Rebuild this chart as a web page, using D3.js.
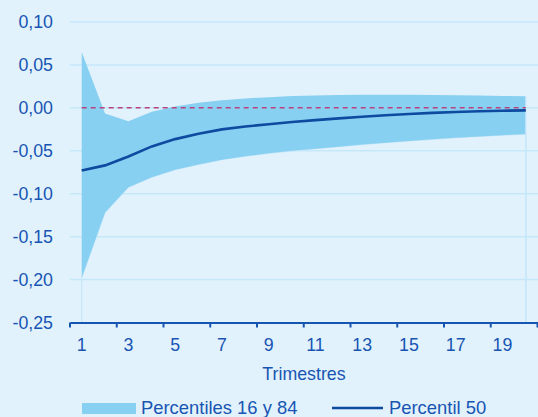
<!DOCTYPE html>
<html>
<head>
<meta charset="utf-8">
<script src="https://cdn.jsdelivr.net/npm/d3@7/dist/d3.min.js"></script>
<style>
  html, body { margin: 0; padding: 0; background: #e1f2fd; }
  svg { display: block; }
  text { font-family: "Liberation Sans", Arial, sans-serif; fill: #1855b3; }
</style>
</head>
<body>
<svg id="chart" width="538" height="417"></svg>
<script>
// Quarters after the shock
const quarters = d3.range(1, 21);
// Percentile 84 (upper edge of the band)
const p84 = [0.065, -0.0065, -0.0155, -0.0045, 0.0015, 0.0060, 0.0088, 0.0110, 0.0125, 0.0137,
             0.0145, 0.0150, 0.0153, 0.0154, 0.0153, 0.0150, 0.0147, 0.0143, 0.0139, 0.0134];
// Percentile 50 (median response)
const p50 = [-0.073, -0.067, -0.0566, -0.0449, -0.0364, -0.0301, -0.0251, -0.0218, -0.0190, -0.0165,
             -0.0143, -0.0122, -0.0103, -0.0086, -0.0071, -0.0059, -0.0049, -0.0040, -0.0034, -0.0029];
// Percentile 16 (lower edge of the band)
const p16 = [-0.198, -0.122, -0.0924, -0.0807, -0.0721, -0.0659, -0.0604, -0.0563, -0.0530, -0.0501,
             -0.0476, -0.0452, -0.0428, -0.0405, -0.0385, -0.0366, -0.0348, -0.0333, -0.0318, -0.0305];
const yTicks = [0.10, 0.05, 0.00, -0.05, -0.10, -0.15, -0.20, -0.25];
const xLabels = [1, 3, 5, 7, 9, 11, 13, 15, 17, 19];
const legendLabels = ["Percentiles 16 y 84", "Percentil 50"];
const axisTitle = "Trimestres";

const svg = d3.select("#chart");
const plotLeft = 70, plotRight = 537.5, plotTop = 22, plotBottom = 322.5;

const x = d3.scaleBand().domain(quarters).range([plotLeft, plotRight]).paddingInner(0).paddingOuter(0);
const xc = q => x(q) + x.bandwidth() / 2;
const y = d3.scaleLinear().domain([-0.25, 0.10]).range([plotBottom, plotTop]);
const fmt = v => d3.format(".2f")(v).replace(".", ",").replace("−", "-");

// horizontal gridlines
svg.append("g").selectAll("line").data(yTicks.filter(v => v > -0.25)).join("line")
  .attr("x1", plotLeft).attr("x2", 538)
  .attr("y1", d => y(d)).attr("y2", d => y(d))
  .attr("stroke", "#c5e7fa").attr("stroke-width", 1.5);

// y tick labels
svg.append("g").selectAll("text").data(yTicks).join("text")
  .attr("x", 53).attr("y", d => y(d)).attr("dy", "0.36em")
  .attr("text-anchor", "end").attr("font-size", 17.8)
  .text(fmt);

// outline of the region below the band
const baseArea = d3.area().x((d, i) => xc(quarters[i])).y0(y(-0.25)).y1(d => y(d));
svg.append("path").datum(p16).attr("d", baseArea)
  .attr("fill", "none").attr("stroke", "#c5e7fa").attr("stroke-width", 1.2);

// 16-84 band
const band = d3.area().x((d, i) => xc(quarters[i])).y0((d, i) => y(p16[i])).y1(d => y(d));
svg.append("path").datum(p84).attr("d", band).attr("fill", "#88d0f1");
svg.append("line")
  .attr("x1", xc(20)).attr("x2", xc(20)).attr("y1", y(p84[19])).attr("y2", y(-0.25))
  .attr("stroke", "#c5e7fa").attr("stroke-width", 1.2);

// zero reference line
svg.append("line")
  .attr("x1", xc(1)).attr("x2", xc(20)).attr("y1", y(0)).attr("y2", y(0))
  .attr("stroke", "#b8437f").attr("stroke-width", 1.5).attr("stroke-dasharray", "5,4");

// median line
const line = d3.line().x((d, i) => xc(quarters[i])).y(d => y(d));
svg.append("path").datum(p50).attr("d", line)
  .attr("fill", "none").attr("stroke", "#0d4aa0").attr("stroke-width", 2.6);

// x axis
const xAxis = d3.axisBottom(x).tickValues([]).tickSize(0).tickSizeOuter(0);
const gx = svg.append("g").attr("transform", `translate(0,${plotBottom})`).call(xAxis);
gx.select(".domain").attr("stroke", "#1756b0").attr("stroke-width", 2.2);
const tickPos = d3.range(0, 21, 2).map(k => plotLeft + k * x.bandwidth());
gx.selectAll("line.tk").data(tickPos).join("line").attr("class", "tk")
  .attr("x1", d => d).attr("x2", d => d).attr("y1", 0).attr("y2", 5)
  .attr("stroke", "#1756b0").attr("stroke-width", 2);
svg.append("g").selectAll("text").data(xLabels).join("text")
  .attr("x", d => xc(d)).attr("y", 351)
  .attr("text-anchor", "middle").attr("font-size", 17.8)
  .text(d => d);
svg.append("text").attr("x", (plotLeft + 538) / 2).attr("y", 379.5)
  .attr("text-anchor", "middle").attr("font-size", 17.8).text(axisTitle);

// legend
const lg = svg.append("g");
lg.append("rect").attr("x", 82).attr("y", 403).attr("width", 54).attr("height", 11)
  .attr("fill", "#88d0f1");
lg.append("text").attr("x", 141).attr("y", 414).attr("font-size", 18.4).text(legendLabels[0]);
lg.append("line").attr("x1", 332).attr("x2", 383).attr("y1", 408).attr("y2", 408)
  .attr("stroke", "#0d4aa0").attr("stroke-width", 2.4);
lg.append("text").attr("x", 389).attr("y", 414).attr("font-size", 18.4).text(legendLabels[1]);
</script>
</body>
</html>
